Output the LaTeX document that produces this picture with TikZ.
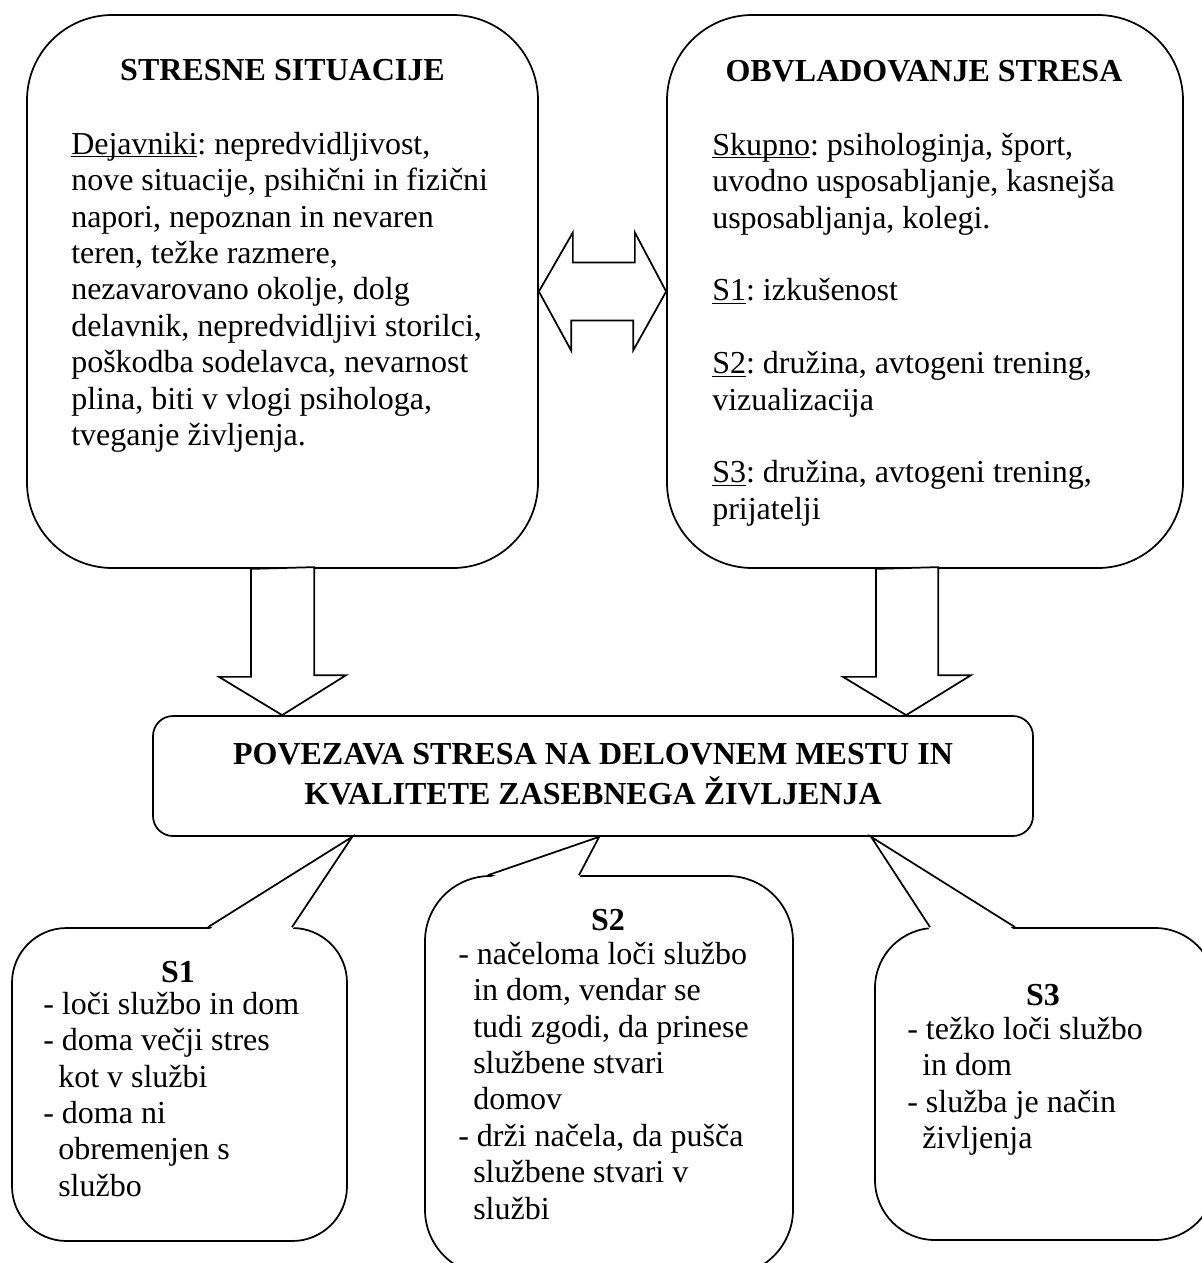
\documentclass[tikz,border=0pt]{standalone}
\usepackage{fontspec}
\setmainfont{Liberation Serif}
\usetikzlibrary{calc}
\newcommand{\leadrule}{\rule{0pt}{24pt}}
\newcommand{\ulword}[1]{\setbox0\hbox{#1}\rlap{\rule[-2.4pt]{\wd0}{1pt}}\box0}
\begin{document}
\begin{tikzpicture}[x=0.75pt,y=-0.75pt,
  lw/.style={line width=1.3pt},
  bigbox/.style={draw, lw, fill=white, rounded corners=64pt, inner sep=0pt},
  midbox/.style={draw, lw, fill=white, rounded corners=15pt, inner sep=0pt},
  callout/.style={draw, lw, fill=white, inner sep=0pt},
  txt/.style={inner sep=0pt, align=left, anchor=north west, font=\fontsize{24pt}{27.3pt}\selectfont\frenchspacing},
  ttl/.style={inner sep=0pt, anchor=base, font=\fontsize{24pt}{27.3pt}\selectfont\bfseries},
  fat/.style={draw, lw, fill=white, line join=miter},
  ptr/.style={lw, line join=miter}
]
\useasboundingbox (0,0) rectangle (1202,1263);
\clip (0,0) rectangle (1202,1263);
\fill[white] (0,0) rectangle (1202,1263);

% big boxes
\node[bigbox, minimum width=511*0.75pt, minimum height=553*0.75pt] (stress) at (282.5,291.5) {};
\node[bigbox, minimum width=516*0.75pt, minimum height=553*0.75pt] (cope) at (925,291.5) {};

% middle box
\node[midbox, minimum width=880*0.75pt, minimum height=120*0.75pt] (mid) at (593,776) {};

% double arrow between the big boxes
\draw[fat] (stress.east) -- ++(34,-59) -- ++(0,30) -- ++(62,0) -- ++(0,-30)
  -- (cope.west) -- ++(-33,59) -- ++(0,-30) -- ++(-62,0) -- ++(0,30) -- cycle;

% down arrows
\draw[fat] ($(stress.south)+(-31.5,0)$) -- ++(0,108) -- ++(-32,0) -- ($(mid.north west)+(130,0)$)
  -- ++(64,-40) -- ++(-32,0) -- ++(0,-108) -- cycle;
\draw[fat] ($(cope.south)+(-49,0)$) -- ++(0,108) -- ++(-33,0) -- ($(mid.north west)+(754,0)$)
  -- ++(65,-40) -- ++(-33,0) -- ++(0,-108) -- cycle;

% callouts
\node[callout, rounded corners=41pt, minimum width=335*0.75pt, minimum height=313*0.75pt] (s1) at (179.5,1084.5) {};
\node[callout, rounded corners=49pt, minimum width=368*0.75pt, minimum height=399*0.75pt] (s2) at (609,1075.5) {};
\node[callout, rounded corners=45pt, minimum width=340*0.75pt, minimum height=312*0.75pt] (s3) at (1045,1084) {};

% pointers
\coordinate (t1) at ($(mid.south west)+(200,0)$);
\coordinate (t2) at ($(mid.south west)+(447,0)$);
\coordinate (t3) at ($(mid.south west)+(719,0)$);
\fill[white] ($(s1.north)+(28.5,3)$) -- (t1) -- ($(s1.north)+(112.5,3)$) -- cycle;
\draw[ptr] ($(s1.north)+(28.5,0)$) -- (t1) -- ($(s1.north)+(112.5,0)$);
\fill[white] ($(s2.north)+(-121,3)$) -- (t2) -- ($(s2.north)+(-30,3)$) -- cycle;
\draw[ptr] ($(s2.north)+(-121,0)$) -- (t2) -- ($(s2.north)+(-30,0)$);
\fill[white] ($(s3.north)+(-115,3)$) -- (t3) -- ($(s3.north)+(-30,3)$) -- cycle;
\draw[ptr] ($(s3.north)+(-115,0)$) -- (t3) -- ($(s3.north)+(-30,0)$);

% texts of big boxes
\node[ttl] (stressT) at (282.5,80) {STRESNE SITUACIJE};
\node[txt] (stressB) at (71,122) {\leadrule\ulword{Dejavniki}: nepredvidljivost,\\
nove situacije, psihični in fizični\\
napori, nepoznan in nevaren\\
teren, težke razmere,\\
nezavarovano okolje, dolg\\
delavnik, nepredvidljivi storilci,\\
poškodba sodelavca, nevarnost\\
plina, biti v vlogi psihologa,\\
tveganje življenja.};

\node[ttl] (copeT) at (924,81) {OBVLADOVANJE STRESA};
\node[txt] (copeB) at (712,123) {\leadrule\ulword{Skupno}: psihologinja, šport,\\
uvodno usposabljanje, kasnejša\\
usposabljanja, kolegi.\\[27.3pt]
\ulword{S1}: izkušenost\\[27.3pt]
\ulword{S2}: družina, avtogeni trening,\\
vizualizacija\\[27.3pt]
\ulword{S3}: družina, avtogeni trening,\\
prijatelji};

% middle text
\node[inner sep=0pt, align=center, anchor=north, font=\fontsize{24pt}{30pt}\selectfont\bfseries] (midT) at (593,732)
  {\leadrule POVEZAVA STRESA NA DELOVNEM MESTU IN\\ KVALITETE ZASEBNEGA ŽIVLJENJA};

% callout texts
\node[ttl] (s1T) at (178,982) {S1};
\node[txt] (s1B) at (43,982) {\leadrule - loči službo in dom\\
- doma večji stres\\
\hspace*{11.25pt}kot v službi\\
- doma ni\\
\hspace*{11.25pt}obremenjen s\\
\hspace*{11.25pt}službo};

\node[ttl] (s2T) at (608,930) {S2};
\node[txt] (s2B) at (458,932) {\leadrule - načeloma loči službo\\
\hspace*{11.25pt}in dom, vendar se\\
\hspace*{11.25pt}tudi zgodi, da prinese\\
\hspace*{11.25pt}službene stvari\\
\hspace*{11.25pt}domov\\
- drži načela, da pušča\\
\hspace*{11.25pt}službene stvari v\\
\hspace*{11.25pt}službi};

\node[ttl] (s3T) at (1043,1005) {S3};
\node[txt] (s3B) at (907,1007) {\leadrule - težko loči službo\\
\hspace*{11.25pt}in dom\\
- služba je način\\
\hspace*{11.25pt}življenja};
\end{tikzpicture}
\end{document}
